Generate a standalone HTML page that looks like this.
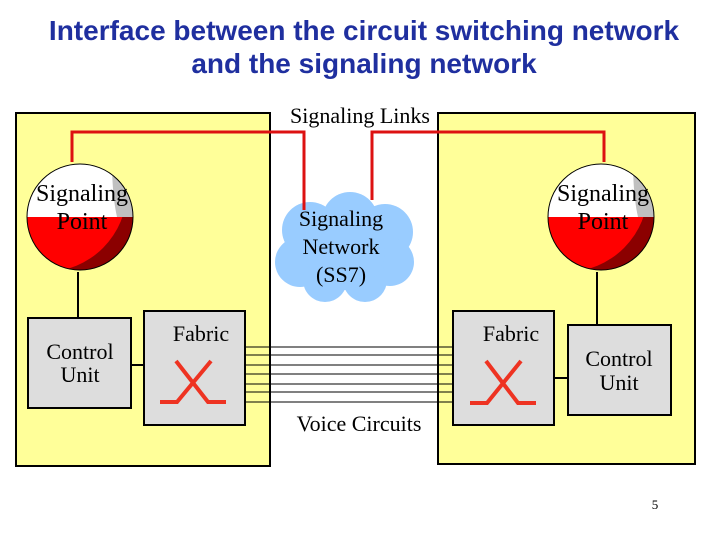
<!DOCTYPE html>
<html><head><style>
body{margin:0;width:720px;height:540px;background:#fff;overflow:hidden}
</style></head><body>
<svg width="720" height="540" xmlns="http://www.w3.org/2000/svg">
<defs>
<clipPath id="c1"><circle cx="80" cy="217" r="53"/></clipPath>
<clipPath id="c2"><circle cx="601" cy="217" r="53"/></clipPath>
</defs>
<text x="364" y="40" font-family="Liberation Sans" font-weight="bold" font-size="28" fill="#1f2f9f" text-anchor="middle">Interface between the circuit switching network</text>
<text x="364" y="73" font-family="Liberation Sans" font-weight="bold" font-size="28" fill="#1f2f9f" text-anchor="middle">and the signaling network</text>
<rect x="16" y="113" width="254" height="353" fill="#ffff99" stroke="#000" stroke-width="2"/>
<rect x="438" y="113" width="257" height="351" fill="#ffff99" stroke="#000" stroke-width="2"/>
<text x="360" y="123" font-family="Liberation Serif" font-size="22" text-anchor="middle">Signaling Links</text>
<g fill="#99ccff">
<circle cx="310" cy="230" r="28"/><circle cx="350" cy="220" r="28"/><circle cx="385" cy="232" r="28"/>
<circle cx="300" cy="262" r="25"/><circle cx="390" cy="262" r="24"/><circle cx="325" cy="280" r="22"/><circle cx="365" cy="280" r="22"/><circle cx="345" cy="250" r="40"/>
</g>
<polyline points="72,162 72,132 304,132 304,210" fill="none" stroke="#dd1111" stroke-width="3"/>
<polyline points="372,200 372,132 604,132 604,162" fill="none" stroke="#dd1111" stroke-width="3"/>
<text font-family="Liberation Serif" font-size="22" text-anchor="middle"><tspan x="341" y="226">Signaling</tspan><tspan x="341" y="254">Network</tspan><tspan x="341" y="282">(SS7)</tspan></text>
<g clip-path="url(#c1)">
<rect x="20" y="217" width="120" height="60" fill="#8b0000"/>
<circle cx="45" cy="190" r="82" fill="#ff0000"/>
<rect x="20" y="160" width="120" height="57" fill="#fff"/>
<path d="M112,160 Q112,195 117,217 L140,217 L140,160 Z" fill="#c0c0c0"/>
</g>
<circle cx="80" cy="217" r="53" fill="none" stroke="#000" stroke-width="1"/>
<g clip-path="url(#c2)">
<rect x="540" y="217" width="120" height="60" fill="#8b0000"/>
<circle cx="566" cy="190" r="82" fill="#ff0000"/>
<rect x="540" y="160" width="120" height="57" fill="#fff"/>
<path d="M633,160 Q633,195 638,217 L661,217 L661,160 Z" fill="#c0c0c0"/>
</g>
<circle cx="601" cy="217" r="53" fill="none" stroke="#000" stroke-width="1"/>
<text font-family="Liberation Serif" font-size="24" text-anchor="middle" fill="#000"><tspan x="82" y="201">Signaling</tspan><tspan x="82" y="229">Point</tspan><tspan x="603" y="201">Signaling</tspan><tspan x="603" y="229">Point</tspan></text>
<g stroke="#000" stroke-width="2">
<line x1="78" y1="272" x2="78" y2="318"/>
<line x1="597" y1="272" x2="597" y2="325"/>
<line x1="131" y1="365" x2="144" y2="365"/>
<line x1="554" y1="378" x2="568" y2="378"/>
</g>
<g stroke="#000" stroke-width="1">
<line x1="245" y1="347" x2="453" y2="347"/><line x1="245" y1="355" x2="453" y2="355"/>
<line x1="245" y1="365" x2="453" y2="365"/><line x1="245" y1="374" x2="453" y2="374"/>
<line x1="245" y1="384" x2="453" y2="384"/><line x1="245" y1="392" x2="453" y2="392"/>
<line x1="245" y1="402" x2="453" y2="402"/>
</g>
<g fill="#dddddd" stroke="#000" stroke-width="2">
<rect x="28" y="318" width="103" height="90"/>
<rect x="144" y="311" width="101" height="114"/>
<rect x="453" y="311" width="101" height="114"/>
<rect x="568" y="325" width="103" height="90"/>
</g>
<g font-family="Liberation Serif" font-size="22" text-anchor="middle">
<text x="80" y="359">Control</text><text x="80" y="382">Unit</text>
<text x="619" y="366">Control</text><text x="619" y="390">Unit</text>
<text x="201" y="341">Fabric</text><text x="511" y="341">Fabric</text>
<text x="359" y="431">Voice Circuits</text>
</g>
<g fill="none" stroke="#ee3322" stroke-width="4">
<polyline points="160,402 177,402 211,361"/><polyline points="176,361 208,402 226,402"/>
<polyline points="470,403 487,403 521,361"/><polyline points="486,361 518,403 536,403"/>
</g>
<text x="655" y="509" font-family="Liberation Serif" font-size="13" text-anchor="middle">5</text>
</svg>
</body></html>
